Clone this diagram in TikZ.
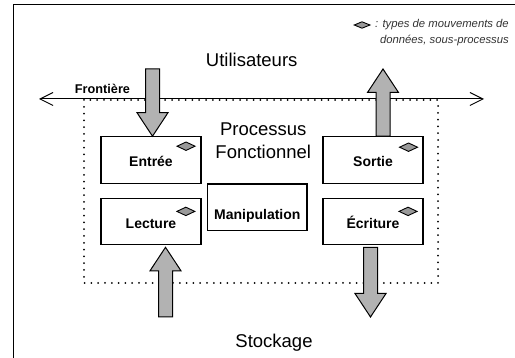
\documentclass[tikz,border=0pt]{standalone}
\usepackage{fontspec}
\setmainfont{Liberation Sans}
\usetikzlibrary{calc,arrows.meta}
\newcommand\blockarrow[3]{%
  \coordinate (#3b) at ($(#2)!23.5pt!(#1)$);
  \draw[blockarr] ($(#1)!7pt!90:(#2)$) -- ($(#3b)!7pt!90:(#2)$) -- ($(#3b)!15.5pt!90:(#2)$) -- (#2)
    -- ($(#3b)!15.5pt!-90:(#2)$) -- ($(#3b)!7pt!-90:(#2)$) -- ($(#1)!7pt!-90:(#2)$) -- cycle;}
\begin{document}
\begin{tikzpicture}[x=1pt,y=-1pt,
  box/.style={draw, line width=1.1pt, minimum width=100pt, minimum height=46.5pt, inner sep=0pt,
    font=\fontsize{14}{16}\selectfont\bfseries, text height=14pt, text depth=0pt},
  bigtxt/.style={font=\fontsize{18.5}{22.3}\selectfont, inner sep=0pt},
  legtxt/.style={font=\fontsize{11.3}{13}\selectfont\itshape, text=black!80, inner sep=0pt},
  blockarr/.style={draw=black, line width=1pt, fill=black!30, line join=miter},
  dmdstyle/.style={draw=black, line width=0.9pt, fill=black!40, line join=miter},
  dotline/.style={line width=2pt, dash pattern=on 0pt off 6.8pt, line cap=round},
  pics/mvd/.style={code={\draw[dmdstyle] (-9,0) -- (0,-4.2) -- (9,0) -- (0,4.2) -- cycle;}}
]
\useasboundingbox (0,0) rectangle (515,358);
% frame
\draw[line width=1pt] (13,358) -- (13,5) -- (515,5);
% legend
\draw[dmdstyle] (354.3,25) -- (362,21.8) -- (370,25) -- (362,28.2) -- cycle;
\node[legtxt, anchor=base east] (leg1) at (509,27.3) {: types de mouvements de};
\node[legtxt, anchor=base east] (leg2) at (509,43.3) {données, sous-processus};
% titles
\node[bigtxt, anchor=base] (users) at (251.7,66.7) {Utilisateurs};
\node[bigtxt, anchor=base] (store) at (274,348) {Stockage};
\node[bigtxt, anchor=base, align=center] (proc) at (263.3,158.3) {Processus\\Fonctionnel};
% boundary
\coordinate (bl) at (39,99);
\coordinate (br) at (484,99);
\draw[line width=1pt, {Straight Barb[length=13pt,width=13pt]}-{Straight Barb[length=13pt,width=13pt]}] (bl) -- (br);
\node[anchor=base, inner sep=0pt, font=\fontsize{12.7}{14}\selectfont\bfseries] (front) at (102.5,93.3) {Frontière};
% functional process perimeter
\draw[dotline] (84,100) rectangle (438,283);
% boxes
\node[box] (entree) at (151,160) {Entrée};
\node[box] (sortie) at (373,160) {Sortie};
\node[box] (lecture) at (151,221.5) {Lecture};
\node[box] (ecriture) at (373,221.5) {Écriture};
\node[box, minimum width=99.3pt, minimum height=46.7pt, text height=23.8pt] (manip) at (257.3,207.4) {Manipulation};
% sub-process diamonds
\pic at ([xshift=-15.5pt,yshift=-10pt]entree.north east) {mvd};
\pic at ([xshift=-15pt,yshift=-11pt]sortie.north east) {mvd};
\pic at ([xshift=-15.7pt,yshift=-13.7pt]lecture.north east) {mvd};
\pic at ([xshift=-15.5pt,yshift=-13.7pt]ecriture.north east) {mvd};
% data movement arrows
\coordinate (eT) at (152.5,69);
\coordinate (eH) at ([xshift=1.5pt]entree.north);
\coordinate (sT) at ([xshift=10pt]sortie.north);
\coordinate (sH) at (383,69);
\coordinate (lT) at (165.5,317);
\coordinate (lH) at ([xshift=14.5pt,yshift=-2pt]lecture.south);
\coordinate (wT) at ([xshift=-2.5pt,yshift=-2pt]ecriture.south);
\coordinate (wH) at (370.5,317);
\blockarrow{eT}{eH}{ea}
\blockarrow{sT}{sH}{sa}
\blockarrow{lT}{lH}{la}
\blockarrow{wT}{wH}{wa}
\end{tikzpicture}
\end{document}
